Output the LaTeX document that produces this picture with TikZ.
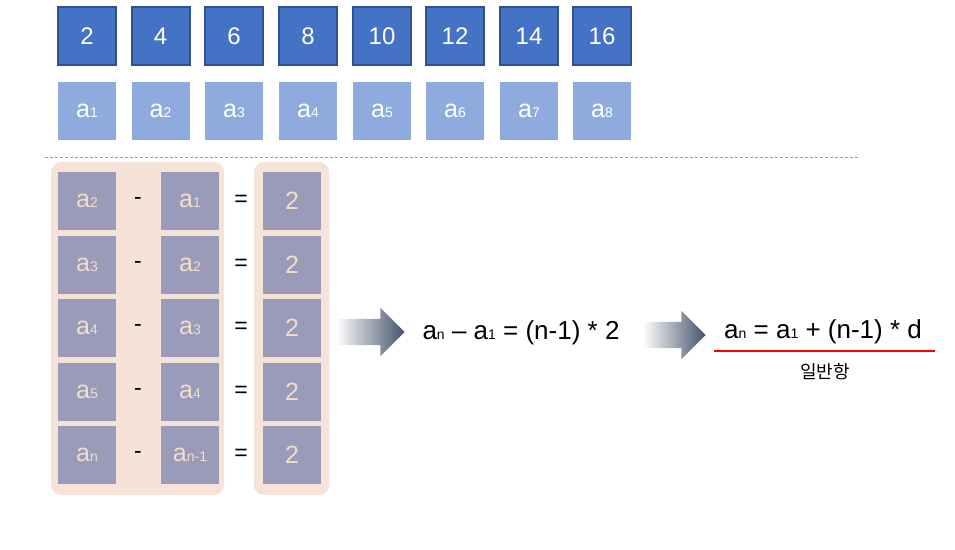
\documentclass[tikz,border=0pt]{standalone}
\usepackage{fontspec}
\setmainfont{Liberation Sans}
\newfontfamily\kofont{Noto Sans CJK KR}
\usetikzlibrary{shapes.arrows,positioning}
\definecolor{darkblue}{HTML}{4472C4}
\definecolor{darkedge}{HTML}{2F528F}
\definecolor{lightblue}{HTML}{8FAADC}
\definecolor{graybox}{HTML}{999BB8}
\definecolor{peach}{HTML}{F6E3D7}
\definecolor{peachtext}{HTML}{F3DDCC}
\definecolor{navy}{HTML}{44546A}
\newcommand\ai[1]{a{\fontsize{14pt}{14pt}\selectfont #1}}
\tikzset{
  valbox/.style={draw=darkedge, line width=2pt, fill=darkblue, minimum width=58pt, minimum height=58pt, text=white, font=\fontsize{24pt}{24pt}\selectfont, inner sep=0pt},
  idxbox/.style={fill=lightblue, minimum width=58pt, minimum height=58pt, text=white, font=\fontsize{25pt}{25pt}\selectfont, inner sep=0pt},
  grbox/.style={fill=graybox, minimum width=58pt, minimum height=58pt, text=peachtext, font=\fontsize{25pt}{25pt}\selectfont, inner sep=0pt},
  opnode/.style={font=\fontsize{23pt}{23pt}\selectfont, text=black},
  panel/.style={fill=peach, rounded corners=10pt},
  bigarrow/.style={single arrow, inner xsep=0pt, inner ysep=13pt, single arrow head extend=11pt, left color=white, right color=navy, shading angle=90},
  formula/.style={font=\fontsize{26pt}{26pt}\selectfont, text=black}
}
\begin{document}
\begin{tikzpicture}[x=1pt,y=-1pt]
\useasboundingbox (0,0) rectangle (955,549);
% top row
\foreach \x/\v [count=\i] in {87/2,160.5/4,234/6,308/8,382/10,455/12,529/14,602/16}{
  \node[valbox] (v\i) at (\x,36) {\v};
  \node[idxbox] (a\i) at (\x,111) {\ai{\i}};
}
% dashed separator
\coordinate (d1) at (45,157);
\coordinate (d2) at (860,157);
\draw[lightblue!90!blue, dash pattern=on 3pt off 2pt, line width=1pt] (d1) -- (d2);
% panels
\node[panel, minimum width=173pt, minimum height=333pt] (pl) at (137.5,328.5) {};
\node[panel, minimum width=75pt, minimum height=333pt] (pr) at (291.5,328.5) {};
% rows
\foreach \y/\l/\r [count=\i] in {201/2/1,265/3/2,328/4/3,392/5/4,455/n/n-1}{
  \node[grbox] (l\i) at (87,\y) {\ai{\l}};
  \node[opnode] (m\i) at (138,\y) {-};
  \node[grbox] (r\i) at (190,\y) {\ai{\r}};
  \node[opnode] (e\i) at (241,\y) {=};
  \node[grbox] (s\i) at (292,\y) {2};
}
% arrow 1
\node[bigarrow, minimum height=69pt] (ar1) at (363.5,332) {};
\node[formula, anchor=west] (f1) at (419,333) {\ai{n} – \ai{1} = (n-1) * 2};
% arrow 2
\node[bigarrow, minimum height=63pt] (ar2) at (667.5,335) {};
\node[formula] (f2) at (823,332) {\ai{n} = \ai{1} + (n-1) * d};
\coordinate (u1) at (714,351);
\coordinate (u2) at (935,351);
\draw[red, line width=1.6pt] (u1) -- (u2);
\node[font=\kofont\fontsize{18pt}{18pt}\selectfont] (gen) at (825,372) {일반항};
\end{tikzpicture}
\end{document}
